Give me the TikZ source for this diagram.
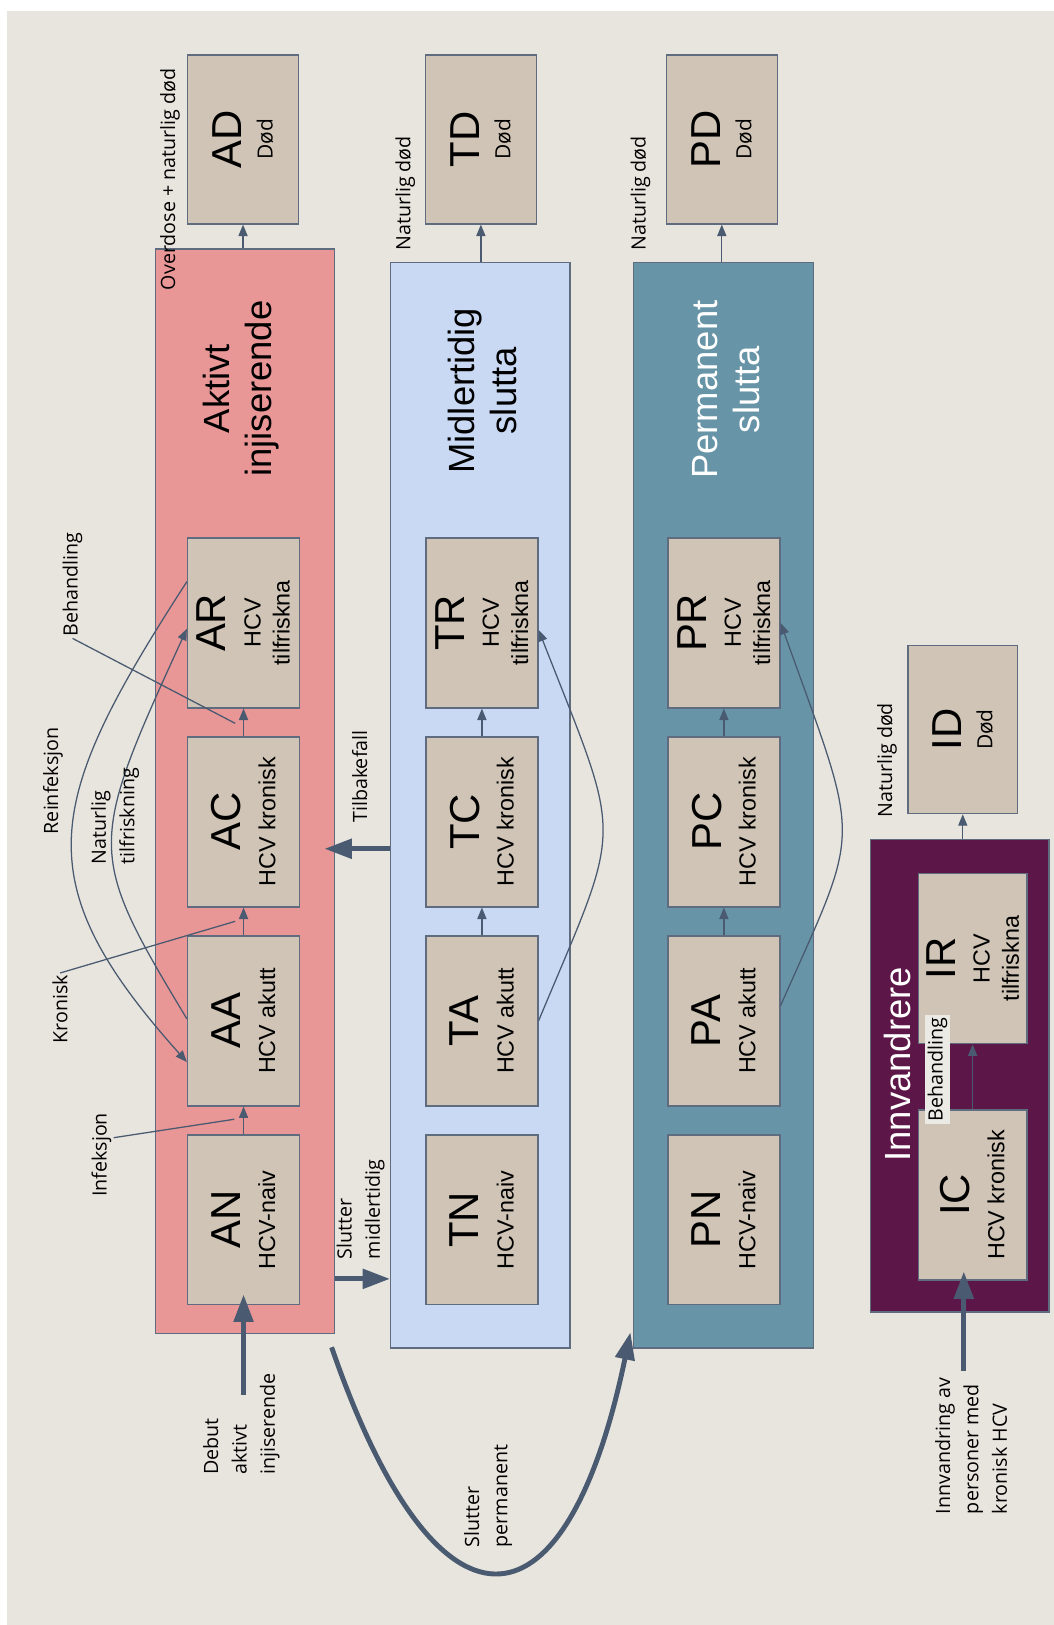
\documentclass[tikz,border=0pt]{standalone}
\usepackage{fontspec}
\setmainfont{Liberation Sans}
\newfontfamily\labelfont{Open Sans}
\usetikzlibrary{arrows.meta,calc}

\definecolor{bgc}{HTML}{E8E5DE}
\definecolor{boxc}{HTML}{CFC4B5}
\definecolor{edgec}{HTML}{5F6C80}
\definecolor{arrowc}{HTML}{4A5A70}
\definecolor{activec}{HTML}{E99697}
\definecolor{pausec}{HTML}{C9D9F4}
\definecolor{quitc}{HTML}{6795A7}
\definecolor{migrc}{HTML}{5C1647}
\definecolor{tagc}{HTML}{ECEAE4}

\newcommand\bigtag[1]{{\fontsize{23}{23}\selectfont #1}\\[3pt]}

\tikzset{
  state box/.style={
    rotate=90, draw=edgec, line width=0.8pt, fill=boxc, inner sep=0pt,
    minimum width=3.28cm, minimum height=2.16cm, align=center,
    font=\fontsize{12.8}{16}\selectfont
  },
  dead box/.style={
    state box, minimum width=3.26cm, minimum height=2.14cm,
    font=\fontsize{11.5}{14}\selectfont
  },
  group box/.style={
    draw=edgec, line width=0.8pt, inner sep=0pt
  },
  title text/.style={
    rotate=90, align=center, inner sep=0pt, font=\fontsize{20}{23}\selectfont
  },
  side label/.style={
    rotate=90, anchor=west, align=left, inner sep=1pt,
    font=\labelfont\fontsize{10.8}{15.6}\selectfont
  },
  flow arrow/.style={
    draw=arrowc, line width=0.7pt, -{Triangle[length=6.3pt,width=5pt]}
  },
  main arrow/.style={
    draw=arrowc, line width=2.7pt, -{Triangle[length=15pt,width=10.5pt]}
  },
  leader line/.style={
    draw=arrowc, line width=0.7pt
  }
}

\begin{document}
\begin{tikzpicture}[x=0.02cm, y=-0.02cm]
\useasboundingbox (0,0) rectangle (1017,1568);
\fill[white] (0,0) rectangle (1017,1568);
\fill[bgc] (7,11) rectangle (1017,1568);

% ------------------------------------------------
% 四个大框：活跃 / 暂停 / 永久停止 / 移民
% ------------------------------------------------
\node[group box, fill=activec, minimum width=3.46cm, minimum height=20.94cm] (gA) at (236.5,763.5) {};
\node[group box, fill=pausec,  minimum width=3.46cm, minimum height=20.96cm] (gT) at (463.5,777) {};
\node[group box, fill=quitc,   minimum width=3.48cm, minimum height=20.96cm] (gP) at (698,777) {};
\node[group box, fill=migrc,   minimum width=3.44cm, minimum height=9.12cm]  (gI) at (926,1038) {};

\node[title text] (tA) at (232.5,375) {Aktivt\\injiserende};
\node[title text] (tT) at (465.5,377) {Midlertidig\\slutta};
\node[title text, text=white] (tP) at (700.5,376) {Permanent\\slutta};
\node[title text, text=white] (tI) at (866,1027) {Innvandrere};

% ------------------------------------------------
% 第一列：A
% ------------------------------------------------
\begin{scope}[shift={(235,0)}]
  \node[dead box]  (AD) at (-0.5,134.5) {\bigtag{AD}{\labelfont Død}};
  \node[state box] (AR) at (0,601)  {\bigtag{AR}HCV\\tilfriskna};
  \node[state box] (AC) at (0,793)  {\bigtag{AC}HCV kronisk};
  \node[state box] (AA) at (0,985)  {\bigtag{AA}HCV akutt};
  \node[state box] (AN) at (0,1177) {\bigtag{AN}HCV-naiv};
\end{scope}

% ------------------------------------------------
% 第二列：T
% ------------------------------------------------
\begin{scope}[shift={(465,0)}]
  \node[dead box]  (TD) at (-1,134.5) {\bigtag{TD}{\labelfont Død}};
  \node[state box] (TR) at (0,601)  {\bigtag{TR}HCV\\tilfriskna};
  \node[state box] (TC) at (0,793)  {\bigtag{TC}HCV kronisk};
  \node[state box] (TA) at (0,985)  {\bigtag{TA}HCV akutt};
  \node[state box] (TN) at (0,1177) {\bigtag{TN}HCV-naiv};
\end{scope}

% ------------------------------------------------
% 第三列：P
% ------------------------------------------------
\begin{scope}[shift={(698.5,0)}]
  \node[dead box]  (PD) at (-2,134.5) {\bigtag{PD}{\labelfont Død}};
  \node[state box] (PR) at (0,601)  {\bigtag{PR}HCV\\tilfriskna};
  \node[state box] (PC) at (0,793)  {\bigtag{PC}HCV kronisk};
  \node[state box] (PA) at (0,985)  {\bigtag{PA}HCV akutt};
  \node[state box] (PN) at (0,1177) {\bigtag{PN}HCV-naiv};
\end{scope}

% ------------------------------------------------
% 第四列：I
% ------------------------------------------------
\node[dead box, minimum width=3.24cm, minimum height=2.12cm] (ID) at (929,704) {\bigtag{ID}{\labelfont Død}};
\node[state box, minimum height=2.10cm] (IR) at (938.5,925)  {\bigtag{IR}HCV\\tilfriskna};
\node[state box, minimum height=2.10cm] (IC) at (938.5,1153) {\bigtag{IC}HCV kronisk};

% ------------------------------------------------
% 框内箭头
% ------------------------------------------------
\draw[flow arrow] (gA.north -| AD.west) -- (AD.west);
\draw[flow arrow] (gT.north -| TD.west) -- (TD.west);
\draw[flow arrow] (gP.north -| PD.west) -- (PD.west);
\draw[flow arrow] (gI.north -| ID.west) -- (ID.west);

\draw[flow arrow] (AN.east) -- (AA.west);
\draw[flow arrow] (AA.east) -- (AC.west);
\draw[flow arrow] (AC.east) -- (AR.west);
\draw[flow arrow] (TA.east) -- (TC.west);
\draw[flow arrow] (TC.east) -- (TR.west);
\draw[flow arrow] (PA.east) -- (PC.west);
\draw[flow arrow] (PC.east) -- (PR.west);
\draw[flow arrow] (IC.east) -- (IR.west);

\draw[flow arrow] (AR.54) .. controls (42,775) and (24,850) .. (AA.126);
\draw[flow arrow] (AA.88) .. controls (84,823) and (84,817) .. (AR.96);
\draw[flow arrow] (TA.south) .. controls (602,788) and (602,818) .. (TR.-97);
\draw[flow arrow] (PA.-75) .. controls (832,792) and (832,821) .. (PR.south);

% ------------------------------------------------
% 标签
% ------------------------------------------------
\node[side label] (lOD)  at (164,282)  {Overdose + naturlig død};
\node[side label] (lTD)  at (391,244)  {Naturlig død};
\node[side label] (lPD)  at (618,244)  {Naturlig død};
\node[side label] (lID)  at (856,791)  {Naturlig død};
\node[side label] (lBeh) at (70,616)   {Behandling};
\node[side label] (lRe)  at (51,807)   {Reinfeksjon};
\node[side label] (lNT)  at (111,836)  {Naturlig\\tilfriskning};
\node[side label] (lKr)  at (58,1009)  {Kronisk};
\node[side label] (lInf) at (98,1157)  {Infeksjon};
\node[side label] (lTB)  at (347,796)  {Tilbakefall};
\node[side label] (lSM)  at (348,1217) {Slutter\\midlertidig};
\node[side label] (lDB)  at (233,1425) {Debut\\aktivt\\injiserende};
\node[side label] (lSP)  at (471,1495) {Slutter\\permanent};
\node[side label] (lIV)  at (937,1463) {Innvandring av\\personer med\\kronisk HCV};
\node[side label, anchor=center, fill=tagc, inner sep=1.5pt] (lBehI) at (904.5,1032) {Behandling};

\coordinate (kBeh) at (227,698);
\coordinate (kKr)  at (227,889);
\coordinate (kInf) at (226,1080);
\draw[leader line] (lBeh.west) -- (kBeh);
\draw[leader line] (lKr.east) -- (kKr);
\draw[leader line] (lInf.-35) -- (kInf);

% ------------------------------------------------
% 粗箭头
% ------------------------------------------------
\coordinate (kTB) at (350,819);
\coordinate (kSM) at (350,1234);
\coordinate (kDB) at (235,1346);
\coordinate (kIV) at (930,1323);
\coordinate (kSP) at (320,1300);
\draw[main arrow, shorten >=-6pt] (gT.west |- kTB) -- (gA.east |- kTB);
\draw[main arrow] (gA.east |- kSM) -- (gT.west |- kSM);
\draw[main arrow, shorten >=-6pt] (kDB) -- (kDB |- AN.west);
\draw[main arrow, shorten >=-5pt] (kIV) -- (kIV |- IC.west);
\draw[main arrow] (kSP) .. controls (420,1590) and (545,1590) .. ($(gP.south west)+(-2,-16)$);
\end{tikzpicture}
\end{document}
